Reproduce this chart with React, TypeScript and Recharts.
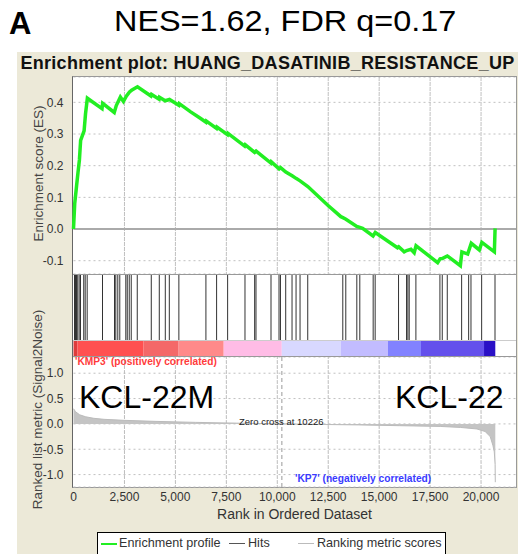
import { ComposedChart, Line, Area, Bar, XAxis, YAxis, CartesianGrid, ReferenceLine, ReferenceArea } from 'recharts';

// running enrichment score
const esRanks = [0, 60, 150, 220, 290, 350, 520, 590, 680, 1400, 1430, 2000, 2100, 2300, 2450, 2600, 2750, 2850, 3140, 3800, 3830, 4200, 4220, 4500, 4710, 5170, 5190, 5750, 6241, 6500, 6520, 7020, 7040, 7560, 7580, 8400, 8430, 8890, 8960, 9690, 9710, 10090, 10160, 10420, 10730, 10920, 11120, 11500, 12466, 13120, 13220, 13370, 13900, 14050, 14186, 14700, 14810, 15900, 15960, 16230, 16350, 16560, 16720, 16810, 17871, 17990, 18100, 18344, 18985, 19060, 19345, 19520, 19917, 20040, 20654, 20690];
const esScores = [0, 0.08, 0.136, 0.178, 0.218, 0.28, 0.31, 0.364, 0.413, 0.38, 0.397, 0.368, 0.39, 0.417, 0.403, 0.42, 0.433, 0.438, 0.449, 0.42, 0.425, 0.41, 0.416, 0.405, 0.409, 0.391, 0.396, 0.37, 0.349, 0.337, 0.341, 0.318, 0.322, 0.298, 0.302, 0.262, 0.266, 0.242, 0.246, 0.208, 0.212, 0.19, 0.194, 0.18, 0.168, 0.16, 0.152, 0.134, 0.076, 0.039, 0.036, 0.031, 0.008, 0.005, 0.002, -0.022, -0.011, -0.059, -0.056, -0.072, -0.068, -0.064, -0.075, -0.053, -0.106, -0.094, -0.093, -0.085, -0.116, -0.072, -0.079, -0.045, -0.066, -0.042, -0.072, 0.002];

// gene set members along the ranked list
const hitRanks = [49, 98, 147, 211, 280, 344, 506, 575, 673, 1425, 2015, 2079, 2177, 2275, 2570, 2639, 2737, 2835, 3130, 3818, 4211, 4506, 4703, 5174, 6501, 7027, 7568, 8418, 8894, 8958, 9695, 10088, 10157, 10418, 10727, 10924, 11120, 11499, 13219, 13366, 13907, 14054, 14708, 14806, 15956, 16349, 16413, 16477, 16806, 17985, 18098, 18344, 19052, 19396, 19509, 20034, 20688];

// signal2noise ranking metric
const metricRanks = [0, 100, 300, 600, 1000, 1500, 2500, 4000, 6000, 8000, 10226, 12000, 14000, 16000, 18000, 19000, 19800, 20200, 20450, 20580, 20650, 20690, 20700];
const metricValues = [0.3, 0.24, 0.18, 0.14, 0.11, 0.09, 0.07, 0.05, 0.03, 0.015, 0, -0.01, -0.02, -0.035, -0.05, -0.07, -0.1, -0.15, -0.25, -0.42, -0.55, -0.8, -1.15];

// heat bar under the hits
const barEdges = [0, 197, 3440, 5160, 7371, 10221, 13120, 15430, 17052, 20147, 20700];
const barColors = ['#dd3c3c', '#ff5050', '#f46868', '#ff8a8a', '#ffbce6', '#d8d8ff', '#c2bcff', '#8282ff', '#6450ec', '#2a10c6'];

const rankTicks = [0, 2500, 5000, 7500, 10000, 12500, 15000, 17500, 20000];
const esTicks = [-0.1, 0, 0.1, 0.2, 0.3, 0.4];
const metricTicks = [-1, -0.5, 0, 0.5, 1];

const X_MAX = 21716;
const FONT = '"Liberation Sans", Arial, sans-serif';

const esData = esRanks.map((r, i) => ({ rank: r, es: esScores[i] }));
const metricData = metricRanks.map((r, i) => ({ rank: r, m: metricValues[i] }));
const hitData = hitRanks.map((r) => ({ rank: r, v: 1 }));
const dummyData = [{ rank: 0, v: 0.5 }, { rank: X_MAX, v: 0.5 }];

const fmt1 = (v: number) => v.toFixed(1);
const fmtRank = (v: number) => v.toLocaleString('en-US');

export default function App() {
  // dotted vertical grid at each rank tick
  const gridCols = (id: string) =>
    rankTicks.slice(1).map((t) => (
      <ReferenceArea key={id + t} x1={t} x2={t + 2} fill="none" stroke="#bdbdbd" strokeDasharray="2 3" ifOverflow="extendDomain" />
    ));

  return (
    <div style={{ position: 'absolute', left: 0, top: 0, width: 518, height: 554, background: '#fff', overflow: 'hidden', fontFamily: FONT }}>
      <div style={{ position: 'absolute', left: 9, top: 6, fontSize: 31, fontWeight: 'bold' }}>A</div>
      <div style={{ position: 'absolute', left: 114, top: 4, fontSize: 30, transform: 'scaleX(1.08)', transformOrigin: 'left top', whiteSpace: 'nowrap' }}>NES=1.62, FDR q=0.17</div>

      <div style={{ position: 'absolute', left: 17, top: 52, width: 501, height: 502, background: '#ece9d8' }} />
      <div style={{ position: 'absolute', left: 17, top: 53, width: 501, textAlign: 'center', fontSize: 18, letterSpacing: 0.3, fontWeight: 'bold', color: '#111', whiteSpace: 'nowrap' }}>
        Enrichment plot: HUANG_DASATINIB_RESISTANCE_UP
      </div>

      <div style={{ position: 'absolute', left: 72, top: 76, width: 443, height: 410, background: '#fff', border: '1px solid #999', borderLeftColor: '#666' }} />

      <div style={{ position: 'absolute', left: -62, top: 166, width: 200, textAlign: 'center', transform: 'rotate(-90deg)', fontSize: 13.5, color: '#444' }}>
        Enrichment score (ES)
      </div>
      <div style={{ position: 'absolute', left: -88, top: 402, width: 250, textAlign: 'center', transform: 'rotate(-90deg)', fontSize: 13.5, color: '#444' }}>
        Ranked list metric (Signal2Noise)
      </div>

      {/* ES panel */}
      <div style={{ position: 'absolute', left: 0, top: 77 }}>
        <ComposedChart width={518} height={197} data={esData} margin={{ top: 0, right: 2, bottom: 0, left: 0.5 }}>
          <CartesianGrid stroke="#c0c0c0" strokeDasharray="2 3" vertical={false} />
          <XAxis dataKey="rank" type="number" domain={[0, X_MAX]} ticks={rankTicks} hide />
          <YAxis type="number" domain={[-0.142, 0.48]} ticks={esTicks} width={73} tickSize={0} tickMargin={10} axisLine={false} tick={{ fill: '#333', fontSize: 12 }} tickFormatter={fmt1} />
          {gridCols('es')}
          <ReferenceLine y={0} stroke="#aaa" strokeWidth={2} />
          <Line dataKey="es" type="linear" stroke="#22ee22" strokeWidth={3.5} dot={false} isAnimationActive={false} />
        </ComposedChart>
      </div>

      {/* hits */}
      <div style={{ position: 'absolute', left: 73, top: 274, borderTop: '1px solid #999', width: 443 }} />
      <div style={{ position: 'absolute', left: 0, top: 275 }}>
        <ComposedChart width={518} height={65} data={hitData} margin={{ top: 0, right: 2, bottom: 0, left: 73.5 }}>
          <XAxis dataKey="rank" type="number" domain={[0, X_MAX]} hide />
          <YAxis type="number" domain={[0, 1]} hide />
          <Bar dataKey="v" fill="#1c1c1c" barSize={1.5} isAnimationActive={false} />
        </ComposedChart>
      </div>

      {/* heat bar */}
      <div style={{ position: 'absolute', left: 0, top: 341 }}>
        <ComposedChart width={518} height={15} data={dummyData} margin={{ top: 0, right: 2, bottom: 0, left: 73.5 }}>
          <XAxis dataKey="rank" type="number" domain={[0, X_MAX]} hide />
          <YAxis type="number" domain={[0, 1]} hide />
          {barColors.map((c, i) => (
            <ReferenceArea key={i} x1={barEdges[i]} x2={barEdges[i + 1]} y1={0} y2={1} fill={c} fillOpacity={1} stroke="none" />
          ))}
          <Line dataKey="v" stroke="none" dot={false} isAnimationActive={false} />
        </ComposedChart>
      </div>
      <div style={{ position: 'absolute', left: 73, top: 340, width: 443, borderTop: '1px solid #ccc' }} />
      <div style={{ position: 'absolute', left: 73, top: 356, width: 443, borderTop: '1px solid #999' }} />

      {/* ranked list metric */}
      <div style={{ position: 'absolute', left: 0, top: 357 }}>
        <ComposedChart width={518} height={170} data={metricData} margin={{ top: 0, right: 2, bottom: 0, left: 0.5 }}>
          <CartesianGrid stroke="#c0c0c0" strokeDasharray="2 3" vertical={false} />
          <XAxis dataKey="rank" type="number" domain={[0, X_MAX]} ticks={rankTicks} height={40} tickSize={0} tickMargin={5} axisLine={false} tick={{ fill: '#333', fontSize: 12 }} tickFormatter={fmtRank} />
          <YAxis type="number" domain={[-1.245, 1.32]} ticks={metricTicks} width={73} tickSize={0} tickMargin={10} axisLine={false} tick={{ fill: '#333', fontSize: 12 }} tickFormatter={fmt1} />
          {gridCols('rk')}
          <ReferenceLine x={10226} stroke="#999" strokeDasharray="4 3" />
          <Area dataKey="m" type="linear" stroke="#bbb" fill="#c4c4c4" fillOpacity={1} strokeWidth={1} isAnimationActive={false} />
        </ComposedChart>
      </div>

      <div style={{ position: 'absolute', left: 75, top: 356, fontSize: 10.2, fontWeight: 'bold', color: '#ff3b3b', whiteSpace: 'nowrap' }}>'KMP3' (positively correlated)</div>
      <div style={{ position: 'absolute', left: 79, top: 379, fontSize: 32, color: '#000' }}>KCL-22M</div>
      <div style={{ position: 'absolute', left: 395, top: 379, fontSize: 32, color: '#000' }}>KCL-22</div>
      <div style={{ position: 'absolute', left: 239, top: 416, fontSize: 9.5, color: '#222', whiteSpace: 'nowrap' }}>Zero cross at 10226</div>
      <div style={{ position: 'absolute', left: 295, top: 473, fontSize: 10.2, fontWeight: 'bold', color: '#3a3aff', whiteSpace: 'nowrap' }}>'KP7' (negatively correlated)</div>

      <div style={{ position: 'absolute', left: 73, top: 506, width: 443, textAlign: 'center', fontSize: 14, color: '#333' }}>Rank in Ordered Dataset</div>

      {/* legend */}
      <div style={{ position: 'absolute', left: 97, top: 532, width: 347, height: 30, background: '#fff', border: '1px solid #000', fontSize: 12.6, color: '#333', whiteSpace: 'nowrap' }}>
        <span style={{ position: 'absolute', left: 3, top: 10, width: 16, borderTop: '2px solid #22ee22' }} />
        <span style={{ position: 'absolute', left: 21, top: 3 }}>Enrichment profile</span>
        <span style={{ position: 'absolute', left: 131, top: 10, width: 16, borderTop: '1px solid #555' }} />
        <span style={{ position: 'absolute', left: 150, top: 3 }}>Hits</span>
        <span style={{ position: 'absolute', left: 200, top: 10, width: 16, borderTop: '1px solid #bbb' }} />
        <span style={{ position: 'absolute', left: 219, top: 3 }}>Ranking metric scores</span>
      </div>
    </div>
  );
}
